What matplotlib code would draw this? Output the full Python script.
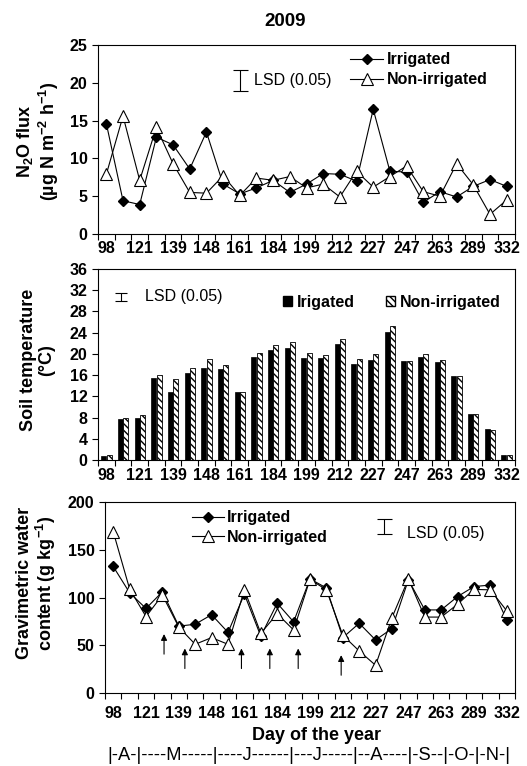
import numpy as np
import matplotlib.pyplot as plt
from matplotlib.patches import Patch

plt.rcParams['font.family'] = ['Liberation Sans', 'DejaVu Sans']
plt.rcParams['mathtext.fontset'] = 'custom'
plt.rcParams['mathtext.rm'] = 'Liberation Sans:bold'
plt.rcParams['mathtext.it'] = 'Liberation Sans:bold'
plt.rcParams['mathtext.bf'] = 'Liberation Sans:bold'
plt.rcParams['mathtext.default'] = 'rm'

# sampling dates (25), only every second one is labelled
day_labels = ['98', '121', '139', '148', '161', '184', '199', '212', '227',
              '247', '263', '289', '332']
n_dates = 25

# N2O flux (ug N m-2 h-1)
n2o_irr = [14.6, 4.4, 3.9, 12.8, 11.8, 8.6, 13.5, 6.6, 5.3, 6.1, 7.1, 5.5, 6.6,
           8.0, 7.9, 7.0, 16.5, 8.3, 8.2, 4.2, 5.6, 4.9, 6.3, 7.2, 6.3]
n2o_non = [7.9, 15.6, 7.1, 14.1, 9.3, 5.5, 5.4, 7.7, 5.1, 7.4, 7.1, 7.6, 6.1,
           6.6, 4.9, 8.3, 6.2, 7.6, 9.0, 5.6, 5.0, 9.3, 6.5, 2.6, 4.5]

# soil temperature (C)
soil_irr = [0.7, 7.7, 7.9, 15.5, 12.9, 16.4, 17.3, 17.1, 12.8, 19.4, 20.8, 21.1, 19.3,
            19.2, 21.9, 18.1, 18.8, 24.2, 18.6, 19.5, 18.4, 15.9, 8.7, 5.8, 1.0]
soil_non = [0.9, 7.9, 8.4, 16.1, 15.3, 17.4, 19.0, 17.9, 12.8, 20.2, 21.6, 22.3, 20.1,
            19.8, 22.9, 19.0, 19.9, 25.2, 18.6, 19.9, 18.8, 15.8, 8.6, 5.7, 0.9]

# gravimetric water content (g kg-1)
gwc_irr = [132.5, 105, 88.5, 106, 70, 72, 82, 63.5, 103.5, 59.5, 94, 74.5, 119.5,
           110, 58, 73, 55.5, 67.5, 118.5, 87, 87, 101, 111.5, 113, 76.5]
gwc_non = [169, 109, 80, 102.5, 69, 51, 58, 51, 108, 62.5, 83, 66, 119,
           108, 60.5, 44, 29, 79, 119.5, 79.5, 79.5, 93, 108.5, 108, 86]

# LSD (0.05) bars: (x position, centre, half length)
lsd_n2o = (8.0, 20.3, 1.4)
lsd_soil = (0.9, 30.7, 0.8)
lsd_gwc = (16.5, 174.7, 7.9)

# irrigation events (x position, arrow tail, arrow head)
irrig_x = [3.1, 4.37, 7.82, 9.55, 11.28, 13.9]
irrig_tail = [40.7, 25.6, 25.6, 25.6, 25.6, 18.6]
irrig_head = [61.7, 46.6, 46.6, 46.6, 46.6, 39.6]

months = '|-A-|----M-----|----J------|---J-----|--A----|-S--|-O-|-N-|'

x = np.arange(n_dates)
W, H = 527, 766
fig = plt.figure(figsize=(W / 100, H / 100), dpi=100)
ax1 = fig.add_axes([98 / W, 1 - 234 / H, 417 / W, 189 / H])
ax2 = fig.add_axes([98 / W, 1 - 460 / H, 417 / W, 191 / H])
ax3 = fig.add_axes([105 / W, 1 - 693 / H, 410 / W, 191 / H])


def style_axis(ax, ymax, ystep, pad):
    ax.set_xlim(-0.5, n_dates - 0.5)
    ax.set_ylim(0, ymax)
    ax.set_yticks(np.arange(0, ymax + 1, ystep))
    ax.set_xticks(np.arange(0, n_dates, 2))
    ax.set_xticklabels(day_labels)
    ax.set_xticks(np.arange(-0.5, n_dates, 1), minor=True)
    ax.tick_params(axis='x', which='major', length=0, pad=pad, labelsize=11.5)
    ax.tick_params(axis='x', which='minor', length=4, width=0.8, direction='out')
    ax.tick_params(axis='y', length=4, width=0.8, direction='out', labelsize=11.5)
    for lab in ax.get_xticklabels() + ax.get_yticklabels():
        lab.set_fontweight('bold')
    for sp in ax.spines.values():
        sp.set_linewidth(0.8)


def lsd(ax, spec, cap):
    xp, yc, half = spec
    ax.errorbar([xp], [yc], yerr=[half], fmt='none', ecolor='black',
                elinewidth=0.8, capsize=cap, capthick=0.8)


line_kw = dict(color='black', lw=0.8)

# ---- N2O flux ----
ax1.plot(x, n2o_irr, marker='D', ms=5.5, mfc='black', mec='black', label='Irrigated', **line_kw)
ax1.plot(x, n2o_non, marker='^', ms=8.5, mfc='white', mec='black', mew=0.8,
         label='Non-irrigated', **line_kw)
style_axis(ax1, 25, 5, 5)
lsd(ax1, lsd_n2o, 5.4)
ax1.text(8.85, lsd_n2o[1], 'LSD (0.05)', fontsize=11.5, va='center')
ax1.legend(loc='center left', bbox_to_anchor=(0.585, 0.869), frameon=False,
           prop=dict(size=11.5, weight='bold'), handlelength=2.1,
           handletextpad=0.2, borderpad=0, labelspacing=0.3)
fig.text(285 / W, 1 - 21 / H, '2009', fontsize=13.5, fontweight='bold',
         ha='center', va='center')

# ---- Soil temperature ----
bw = 0.3
ax2.bar(x - 0.16, soil_irr, width=bw, color='black', edgecolor='black', lw=0.5)
ax2.bar(x + 0.16, soil_non, width=bw, color='white', edgecolor='black', lw=0.6,
        hatch='\\\\\\\\\\')
style_axis(ax2, 36, 4, 6)
lsd(ax2, lsd_soil, 4.3)
ax2.text(2.3, 30.9, 'LSD (0.05)', fontsize=11.5, va='center')
handles = [Patch(facecolor='black', edgecolor='black', label='Irigated'),
           Patch(facecolor='white', edgecolor='black', hatch='\\\\\\\\\\',
                 label='Non-irrigated')]
ax2.legend(handles=handles, loc='center left', bbox_to_anchor=(0.424, 0.827),
           ncol=2, frameon=False, prop=dict(size=11.5, weight='bold'),
           handlelength=0.6, handleheight=0.6, handletextpad=0.3,
           columnspacing=1.9, borderpad=0)

# ---- Gravimetric water content ----
ax3.plot(x, gwc_irr, marker='D', ms=5.5, mfc='black', mec='black', label='Irrigated', **line_kw)
ax3.plot(x, gwc_non, marker='^', ms=8.5, mfc='white', mec='black', mew=0.8,
         label='Non-irrigated', **line_kw)
style_axis(ax3, 200, 50, 9)
lsd(ax3, lsd_gwc, 5.4)
ax3.text(17.9, 167.5, 'LSD (0.05)', fontsize=11.5, va='center')
for xa, yt, yh in zip(irrig_x, irrig_tail, irrig_head):
    ax3.annotate('', xy=(xa, yh), xytext=(xa, yt),
                 arrowprops=dict(arrowstyle='-|>', color='black', lw=0.8,
                                 mutation_scale=9, shrinkA=0, shrinkB=0))
ax3.legend(loc='center left', bbox_to_anchor=(0.192, 0.866), frameon=False,
           prop=dict(size=11.5, weight='bold'), handlelength=2.0,
           handletextpad=0.2, borderpad=0, labelspacing=0.3)
fig.text(317 / W, 1 - 735 / H, 'Day of the year', fontsize=13, fontweight='bold',
         ha='center', va='center')
fig.text(309 / W, 1 - 755 / H, months, fontsize=13.2, ha='center', va='center')

# y labels
ylab_kw = dict(rotation=90, ha='center', va='center', multialignment='center',
               fontsize=13, fontweight='bold', linespacing=1.1)
fig.text(38 / W, 1 - 141 / H, 'N$_2$O flux\n(µg N m$^{-2}$ h$^{-1}$)', **ylab_kw)
fig.text(37.5 / W, 1 - 360 / H, 'Soil temperature\n(°C)', **ylab_kw)
fig.text(37 / W, 1 - 583 / H, 'Gravimetric water\ncontent (g kg$^{-1}$)', **ylab_kw)

fig.savefig('out.png', dpi=100)
